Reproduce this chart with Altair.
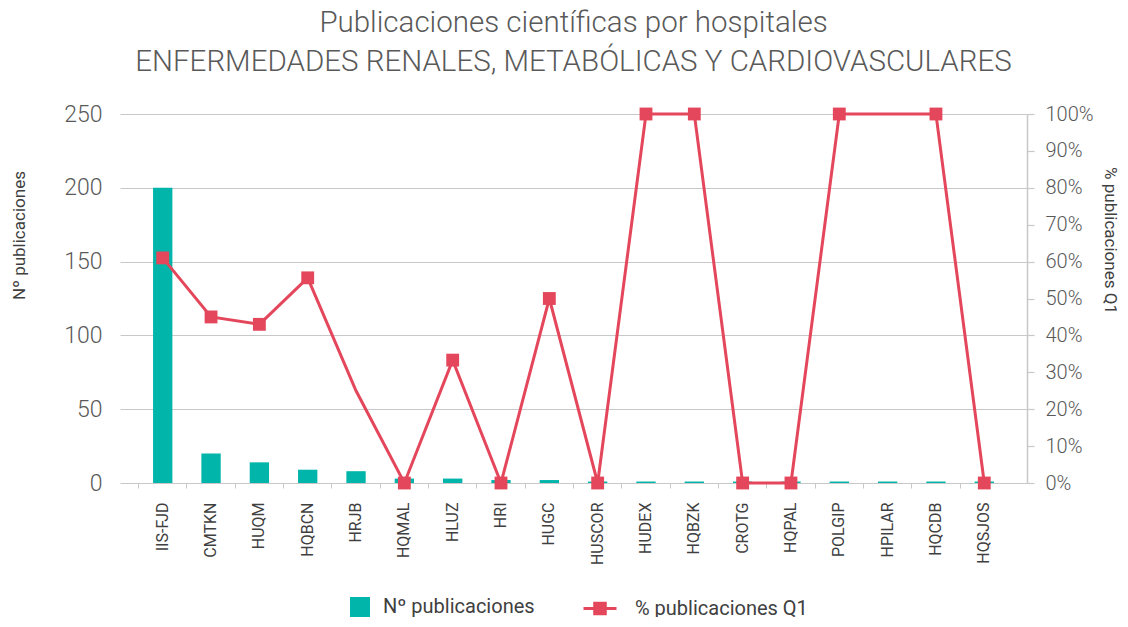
import json
import altair as alt
import pandas as pd

hospitales = ["IIS-FJD", "CMTKN", "HUQM", "HQBCN", "HRJB", "HQMAL", "HLUZ", "HRI", "HUGC",
              "HUSCOR", "HUDEX", "HQBZK", "CROTG", "HQPAL", "POLGIP", "HPILAR", "HQCDB", "HQSJOS"]
publicaciones = [200, 20, 14, 9, 8, 3, 3, 2, 2, 1, 1, 1, 1, 1, 1, 1, 1, 1]
pct_q1 = [0.61, 0.45, 0.43, 0.556, 0.25, 0.0, 0.333, 0.0, 0.5, 0.0,
          1.0, 1.0, 0.0, 0.0, 1.0, 1.0, 1.0, 0.0]
sin_marcador = ["HRJB", "HPILAR"]

serie_barras = "Nº publicaciones"
serie_linea = "% publicaciones Q1"

TEAL = "#02B5AA"
RED = "#E4475B"
GRID = "#c8c8c8"
TXT = "#595959"
FONT = "Roboto"

df = pd.DataFrame({"hospital": hospitales, "pub": publicaciones, "pct": pct_q1})

x_enc = alt.X(
    "hospital:N", sort=hospitales,
    scale=alt.Scale(paddingInner=0, paddingOuter=0.384),
    axis=alt.Axis(title=None, labelAngle=-90, labelFontSize=16, labelColor="#404040",
                  labelFont=FONT, domain=False, ticks=True, tickColor=GRID, tickSize=5,
                  bandPosition=0, labelPadding=14, grid=False),
)

bars = alt.Chart(df).transform_calculate(serie=f"'{serie_barras}'").mark_bar(
    width=alt.RelativeBandSize(0.4)
).encode(
    x=x_enc,
    y=alt.Y("pub:Q", scale=alt.Scale(domain=[0, 250]),
            axis=alt.Axis(orient="left", values=[0, 50, 100, 150, 200, 250], grid=True,
                          gridColor=GRID, gridWidth=1.2, domain=False, ticks=False,
                          labelPadding=18, labelFontSize=23, labelColor=TXT, labelFont=FONT,
                          labelFontWeight=300,
                          title=serie_barras, titleFont=FONT, titleFontSize=17,
                          titleFontWeight="normal", titleColor="#404040", titleAngle=-90,
                          titleX=-92, titleY=121, titleAlign="center", titleBaseline="bottom")),
    color=alt.Color("serie:N", scale=alt.Scale(domain=[serie_barras], range=[TEAL]),
                    legend=alt.Legend(title=None, orient="none", legendX=230, legendY=483,
                                      symbolType="square", symbolSize=400, symbolStrokeWidth=0,
                                      labelFontSize=20, labelFont=FONT, labelColor="#404040",
                                      labelOffset=13, padding=0, labelLimit=300)),
)

line = alt.Chart(df).transform_calculate(serie2=f"'{serie_linea}'").mark_line(
    strokeWidth=3
).encode(
    x=x_enc,
    y=alt.Y("pct:Q", scale=alt.Scale(domain=[0, 1]),
            axis=alt.Axis(orient="right", format=".0%", values=[i / 10 for i in range(11)],
                          grid=False, domain=True, domainColor=GRID, domainWidth=1.5,
                          ticks=True, tickColor=GRID, tickSize=7, tickWidth=1.2,
                          labelPadding=11, labelFontSize=20, labelColor=TXT, labelFont=FONT,
                          labelFontWeight=300,
                          title=serie_linea, titleFont=FONT, titleFontSize=17,
                          titleFontWeight="normal", titleColor="#404040", titleAngle=90,
                          titleX=73, titleY=126, titleAlign="center", titleBaseline="bottom")),
    stroke=alt.Stroke("serie2:N", scale=alt.Scale(domain=[serie_linea], range=[RED]),
                      legend=alt.Legend(title=None, orient="none", legendX=462, legendY=476.5,
                                        symbolType="M-1,0H1M-0.32,-0.32H0.32V0.32H-0.32Z",
                                        symbolSize=1089, symbolStrokeWidth=3,
                                        symbolFillColor=RED, symbolStrokeColor=RED,
                                        labelFontSize=20, labelFont=FONT, labelColor="#404040",
                                        labelOffset=17, padding=0, labelLimit=300)),
)

points = alt.Chart(df).transform_filter(
    f"indexof({json.dumps(sin_marcador)}, datum.hospital) < 0"
).mark_point(shape="square", filled=True, size=165, color=RED, opacity=1).encode(
    x=x_enc,
    y=alt.Y("pct:Q", scale=alt.Scale(domain=[0, 1]), axis=None),
)

chart = alt.layer(bars, line, points).resolve_scale(y="independent").properties(
    width=907, height=369,
    title=alt.Title(["Publicaciones científicas por hospitales",
                     "ENFERMEDADES RENALES, METABÓLICAS Y CARDIOVASCULARES"],
                    font=FONT, fontSize=29.5, fontWeight=300, color=TXT, anchor="middle",
                    lineHeight=39, offset=26),
    autosize=alt.AutoSizeParams(type="none"),
    padding={"left": 112, "top": 106, "right": 93, "bottom": 134},
).configure_view(stroke=None)

chart.save("out.html", embed_options={"renderer": "svg", "actions": False})
